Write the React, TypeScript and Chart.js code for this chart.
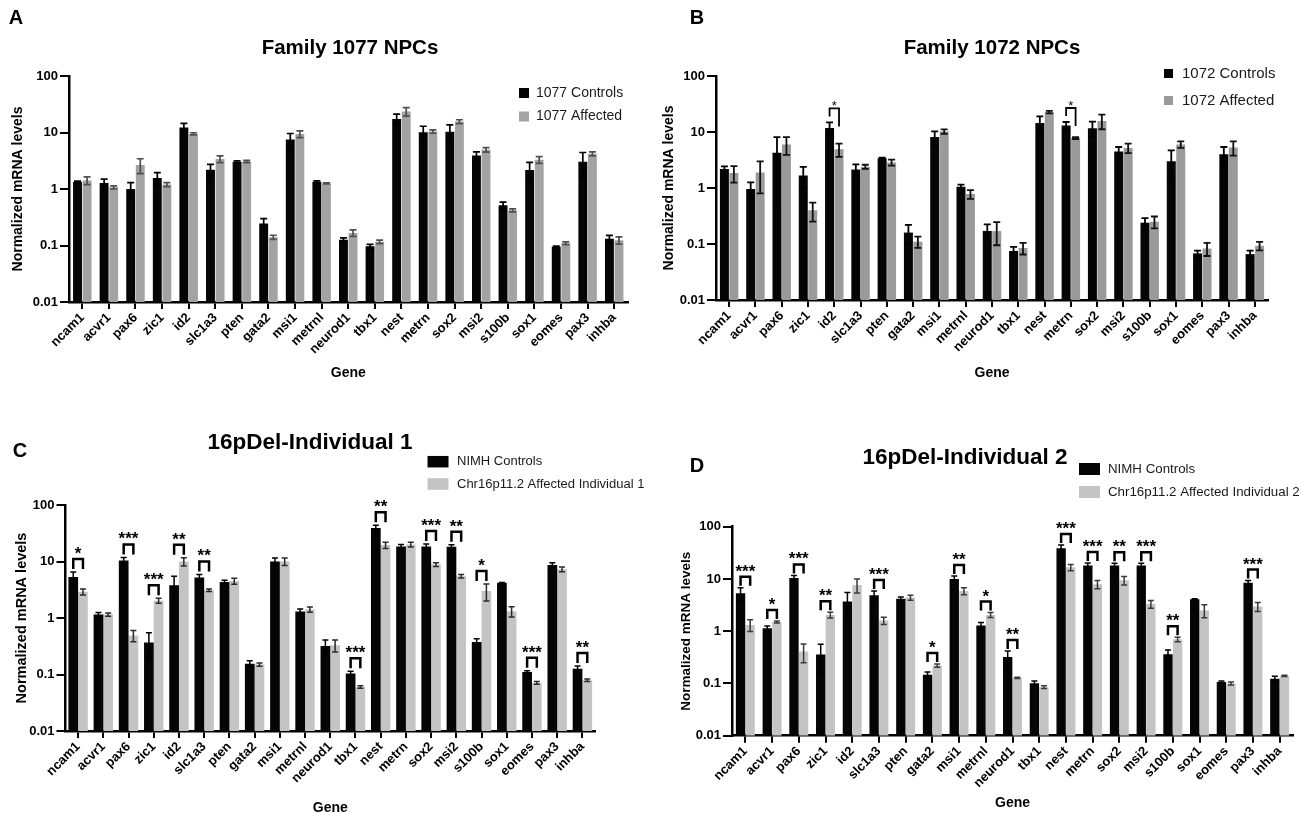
import React, { useEffect, useRef } from "react";
import { Chart, registerables } from "chart.js";

Chart.register(...registerables);

const FONT = '"Liberation Sans", Arial, Helvetica, sans-serif';

// ---------- shared categories / ticks ----------
const genes = ["ncam1", "acvr1", "pax6", "zic1", "id2", "slc1a3", "pten", "gata2", "msi1", "metrnl", "neurod1", "tbx1", "nest", "metrn", "sox2", "msi2", "s100b", "sox1", "eomes", "pax3", "inhba"];
const yTickValues = [0.01, 0.1, 1, 10, 100];
const yTickLabels = ["0.01", "0.1", "1", "10", "100"];

// ---------- Panel A: Family 1077 ----------
const a1077Controls = [1.33, 1.28, 1.0, 1.56, 12.2, 2.2, 3.03, 0.245, 7.5, 1.35, 0.126, 0.097, 17.4, 10.1, 10.3, 3.93, 0.515, 2.16, 0.095, 3.03, 0.131];
const a1077ControlsSem = [0.05, 0.22, 0.3, 0.39, 2.3, 0.52, 0.12, 0.055, 2.1, 0.05, 0.01, 0.008, 3.7, 2.8, 3.3, 0.6, 0.07, 0.8, 0.003, 1.4, 0.02];
const a1077Affected = [1.42, 1.07, 2.65, 1.2, 9.5, 3.4, 3.07, 0.14, 9.4, 1.26, 0.167, 0.116, 23.5, 10.4, 15.6, 4.94, 0.42, 3.3, 0.11, 4.2, 0.124];
const a1077AffectedSem = [0.22, 0.07, 0.78, 0.1, 0.4, 0.47, 0.15, 0.012, 1.3, 0.03, 0.022, 0.008, 4.0, 0.7, 1.2, 0.45, 0.025, 0.45, 0.006, 0.35, 0.018];
const aSig = ["", "", "", "", "", "", "", "", "", "", "", "", "", "", "", "", "", "", "", "", ""];

// ---------- Panel B: Family 1072 ----------
const b1072Controls = [2.19, 0.96, 4.27, 1.68, 11.8, 2.15, 3.4, 0.16, 8.1, 1.05, 0.171, 0.075, 14.5, 13.0, 11.7, 4.5, 0.24, 3.0, 0.068, 4.0, 0.066];
const b1072ControlsSem = [0.25, 0.3, 3.8, 0.7, 3.0, 0.5, 0.1, 0.06, 2.2, 0.1, 0.053, 0.014, 4.5, 2.1, 3.6, 0.9, 0.05, 1.7, 0.008, 1.4, 0.01];
const b1072Affected = [1.85, 1.9, 6.0, 0.4, 4.9, 2.4, 2.85, 0.11, 10.2, 0.78, 0.17, 0.085, 22.7, 7.8, 15.8, 5.2, 0.25, 6.0, 0.083, 5.3, 0.093];
const b1072AffectedSem = [0.6, 1.1, 2.1, 0.15, 1.3, 0.2, 0.35, 0.025, 0.9, 0.14, 0.075, 0.02, 1.2, 0.3, 4.6, 1.0, 0.06, 0.8, 0.022, 1.5, 0.016];
const bSig = ["", "", "", "", "*", "", "", "", "", "", "", "", "", "*", "", "", "", "", "", "", ""];

// ---------- Panel C: 16pDel Individual 1 ----------
const cNimhControls = [5.3, 1.15, 10.4, 0.37, 3.8, 5.2, 4.35, 0.155, 10.0, 1.3, 0.32, 0.104, 39.0, 18.5, 18.5, 18.2, 0.375, 4.2, 0.111, 8.7, 0.126];
const cNimhControlsSem = [1.2, 0.1, 1.4, 0.18, 1.7, 0.7, 0.3, 0.02, 1.5, 0.15, 0.09, 0.01, 5.0, 1.5, 2.0, 1.6, 0.055, 0.05, 0.006, 0.8, 0.015];
const cAffected1 = [2.9, 1.15, 0.49, 2.03, 10.0, 3.1, 4.5, 0.15, 10.0, 1.42, 0.33, 0.06, 19.5, 20.0, 8.85, 5.5, 3.0, 1.31, 0.071, 7.3, 0.079];
const cAffected1Sem = [0.35, 0.08, 0.11, 0.2, 1.7, 0.15, 0.55, 0.01, 1.5, 0.15, 0.08, 0.003, 2.5, 2.0, 0.7, 0.4, 1.0, 0.27, 0.004, 0.7, 0.004];
const cSig = ["*", "", "***", "***", "**", "**", "", "", "", "", "", "***", "**", "", "***", "**", "*", "", "***", "", "**"];

// ---------- Panel D: 16pDel Individual 2 ----------
const dNimhControls = [5.3, 1.14, 10.4, 0.36, 3.7, 4.9, 4.2, 0.147, 10.0, 1.28, 0.32, 0.101, 38.5, 18.0, 18.0, 18.0, 0.364, 4.1, 0.107, 8.5, 0.123];
const dNimhControlsSem = [1.5, 0.12, 1.3, 0.2, 1.8, 1.0, 0.3, 0.018, 1.4, 0.18, 0.1, 0.011, 6.0, 2.2, 2.0, 2.0, 0.075, 0.1, 0.005, 0.8, 0.015];
const dAffected2 = [1.32, 1.5, 0.41, 2.05, 7.7, 1.6, 4.4, 0.22, 5.9, 2.05, 0.128, 0.085, 16.7, 7.9, 9.4, 3.3, 0.7, 2.5, 0.1, 2.96, 0.14];
const dAffected2Sem = [0.33, 0.07, 0.16, 0.26, 2.3, 0.25, 0.5, 0.015, 0.9, 0.22, 0.003, 0.005, 2.3, 1.4, 1.7, 0.55, 0.07, 0.7, 0.007, 0.57, 0.004];
const dSig = ["***", "*", "***", "**", "", "***", "", "*", "**", "*", "**", "", "***", "***", "**", "***", "**", "", "", "***", ""];

// ---------- layout / style config (page coordinates) ----------
type Panel = {
  left: number; top: number; width: number; height: number;
  area: { l: number; r: number; t: number; b: number };
  yTitleX: number; yTitleSize: number; geneY: number;
  letter: { text: string; x: number; y: number };
  title: { text: string; x: number; y: number; size: number };
  legend: { labels: string[]; boxX: number; boxW: number; boxH: number; rows: number[]; textX: number; size: number };
  series: number[][]; errs: number[][]; sig: string[];
  colors: string[]; errColors: string[];
  catPct: number; barPct: number; errWidth: number; cap: number;
  bracket: { gap: number; legL: number; legR: number; lw: number; font: string; starGap: number };
};

const panels: Panel[] = [
  {
    left: 0, top: 0, width: 654, height: 400,
    area: { l: 69, r: 627.5, t: 76, b: 302 },
    yTitleX: 18, yTitleSize: 14, geneY: 373,
    letter: { text: "A", x: 16, y: 18 },
    title: { text: "Family 1077 NPCs", x: 350, y: 48, size: 20.5 },
    legend: { labels: ["1077 Controls", "1077 Affected"], boxX: 519, boxW: 10, boxH: 10, rows: [93, 116.5], textX: 536, size: 14 },
    series: [a1077Controls, a1077Affected], errs: [a1077ControlsSem, a1077AffectedSem], sig: aSig,
    colors: ["#050505", "#a3a3a3"], errColors: ["#000000", "#505050"],
    catPct: 0.72, barPct: 0.93, errWidth: 1.7, cap: 3.5,
    bracket: { gap: 13, legL: 9, legR: 9, lw: 2, font: "bold 16px", starGap: 0 },
  },
  {
    left: 654, top: 0, width: 655, height: 400,
    area: { l: 716, r: 1268, t: 76, b: 300 },
    yTitleX: 669, yTitleSize: 14, geneY: 373,
    letter: { text: "B", x: 697, y: 18 },
    title: { text: "Family 1072 NPCs", x: 992, y: 48, size: 20.5 },
    legend: { labels: ["1072 Controls", "1072 Affected"], boxX: 1164, boxW: 9, boxH: 9, rows: [73.5, 100.5], textX: 1182, size: 15 },
    series: [b1072Controls, b1072Affected], errs: [b1072ControlsSem, b1072AffectedSem], sig: bSig,
    colors: ["#050505", "#9a9a9a"], errColors: ["#000000", "#111111"],
    catPct: 0.72, barPct: 0.95, errWidth: 1.8, cap: 3.5,
    bracket: { gap: 14, legL: 8, legR: 18, lw: 1.8, font: "normal 13px", starGap: -2 },
  },
  {
    left: 0, top: 400, width: 654, height: 425,
    area: { l: 65.5, r: 595, t: 505, b: 731 },
    yTitleX: 22, yTitleSize: 14.5, geneY: 808,
    letter: { text: "C", x: 20, y: 451 },
    title: { text: "16pDel-Individual 1", x: 310, y: 443, size: 22.5 },
    legend: { labels: ["NIMH Controls", "Chr16p11.2 Affected Individual 1"], boxX: 427.5, boxW: 21, boxH: 11.5, rows: [461.7, 484], textX: 457, size: 13 },
    series: [cNimhControls, cAffected1], errs: [cNimhControlsSem, cAffected1Sem], sig: cSig,
    colors: ["#050505", "#c4c4c4"], errColors: ["#000000", "#2a2a2a"],
    catPct: 0.77, barPct: 1.0, errWidth: 1.5, cap: 3,
    bracket: { gap: 13, legL: 10, legR: 10, lw: 2.5, font: "bold 17px", starGap: 0 },
  },
  {
    left: 654, top: 400, width: 655, height: 425,
    area: { l: 732, r: 1293, t: 526.7, b: 735.7 },
    yTitleX: 686, yTitleSize: 13.5, geneY: 803,
    letter: { text: "D", x: 697, y: 466 },
    title: { text: "16pDel-Individual 2", x: 965, y: 458, size: 22.5 },
    legend: { labels: ["NIMH Controls", "Chr16p11.2 Affected Individual 2"], boxX: 1079, boxW: 21, boxH: 12, rows: [469, 492], textX: 1108, size: 13.3 },
    series: [dNimhControls, dAffected2], errs: [dNimhControlsSem, dAffected2Sem], sig: dSig,
    colors: ["#050505", "#c4c4c4"], errColors: ["#000000", "#3a3a3a"],
    catPct: 0.72, barPct: 0.97, errWidth: 1.5, cap: 3,
    bracket: { gap: 11, legL: 9, legR: 9, lw: 2.5, font: "bold 17px", starGap: 0 },
  },
];

function makeOverlay(p: Panel) {
  return {
    id: "overlay",
    afterDatasetsDraw(chart: any) {
      const ctx = chart.ctx as CanvasRenderingContext2D;
      const ys = chart.scales.y;
      const cap = p.cap;
      ctx.save();
      // error bars
      p.errs.forEach((errArr, di) => {
        const meta = chart.getDatasetMeta(di);
        const data = p.series[di];
        ctx.strokeStyle = p.errColors[di];
        ctx.lineWidth = p.errWidth;
        meta.data.forEach((el: any, i: number) => {
          const m = data[i];
          const e = errArr[i];
          const hi = ys.getPixelForValue(m + e);
          const lo = ys.getPixelForValue(Math.max(m - e, 0.0102));
          const x = el.x;
          ctx.beginPath();
          ctx.moveTo(x, lo); ctx.lineTo(x, hi);
          ctx.moveTo(x - cap, hi); ctx.lineTo(x + cap, hi);
          ctx.moveTo(x - cap, lo); ctx.lineTo(x + cap, lo);
          ctx.stroke();
        });
      });
      // significance brackets
      const m0 = chart.getDatasetMeta(0);
      const m1 = chart.getDatasetMeta(1);
      const br = p.bracket;
      p.sig.forEach((s, i) => {
        if (!s) return;
        const x0 = m0.data[i].x;
        const x1 = m1.data[i].x;
        const t0 = ys.getPixelForValue(p.series[0][i] + p.errs[0][i]);
        const t1 = ys.getPixelForValue(p.series[1][i] + p.errs[1][i]);
        const top = Math.min(t0, t1) - br.gap;
        ctx.strokeStyle = "#000";
        ctx.lineWidth = br.lw;
        ctx.lineJoin = "miter";
        ctx.beginPath();
        ctx.moveTo(x0, top + br.legL);
        ctx.lineTo(x0, top);
        ctx.lineTo(x1, top);
        ctx.lineTo(x1, top + br.legR);
        ctx.stroke();
        ctx.fillStyle = "#000";
        ctx.font = `${br.font} ${FONT}`;
        ctx.textAlign = "center";
        ctx.textBaseline = "alphabetic";
        ctx.fillText(s, (x0 + x1) / 2, top - br.starGap);
      });
      ctx.restore();
    },
    afterDraw(chart: any) {
      const ctx = chart.ctx as CanvasRenderingContext2D;
      const ox = p.left, oy = p.top;
      ctx.save();
      ctx.fillStyle = "#000";
      ctx.textBaseline = "middle";
      // panel letter
      ctx.font = `bold 20px ${FONT}`;
      ctx.textAlign = "center";
      ctx.fillText(p.letter.text, p.letter.x - ox, p.letter.y - oy);
      // title
      ctx.font = `bold ${p.title.size}px ${FONT}`;
      ctx.fillText(p.title.text, p.title.x - ox, p.title.y - oy);
      // legend
      const lg = p.legend;
      ctx.font = `${lg.size}px ${FONT}`;
      ctx.textAlign = "left";
      lg.labels.forEach((lab, k) => {
        const cy = lg.rows[k] - oy;
        ctx.fillStyle = p.colors[k];
        ctx.fillRect(lg.boxX - ox, cy - lg.boxH / 2, lg.boxW, lg.boxH);
        ctx.fillStyle = "#1a1a1a";
        ctx.fillText(lab, lg.textX - ox, cy);
      });
      ctx.restore();
    },
  };
}

function buildChart(canvas: HTMLCanvasElement, p: Panel) {
  const yOff = (p.yTitleSize * 1.2) / 2 + 4;
  const scaleLeft = p.yTitleX - yOff;
  const padL = scaleLeft - p.left;
  const yW = p.area.l - scaleLeft;
  const padT = p.area.t - p.top;
  const padR = p.left + p.width - p.area.r;
  const xOff = (14 * 1.2) / 2 + 4;
  const scaleBottom = p.geneY + xOff;
  const xH = scaleBottom - p.area.b;
  const padB = p.top + p.height - scaleBottom;

  return new Chart(canvas, {
    type: "bar",
    data: {
      labels: genes,
      datasets: p.series.map((vals, k) => ({
        label: p.legend.labels[k],
        data: vals,
        backgroundColor: p.colors[k],
        borderWidth: 0,
        categoryPercentage: p.catPct,
        barPercentage: p.barPct,
      })),
    },
    options: {
      responsive: false,
      animation: false,
      events: [],
      layout: { padding: { left: padL, top: padT, right: padR, bottom: padB } },
      plugins: {
        legend: { display: false },
        title: { display: false },
        tooltip: { enabled: false },
      },
      scales: {
        x: {
          type: "category",
          offset: true,
          grid: { display: true, drawOnChartArea: false, drawTicks: true, tickLength: 7, offset: false, color: "#000", lineWidth: 2 },
          border: { display: true, color: "#000", width: 2.5 },
          ticks: { autoSkip: false, maxRotation: 45, minRotation: 45, padding: 1, color: "#000", font: { family: FONT, size: 13, weight: "bold" } },
          title: { display: true, text: "Gene", color: "#000", font: { family: FONT, size: 14, weight: "bold" }, padding: { top: 4, bottom: 4 } },
          afterFit: (s: any) => { s.height = xH; },
        },
        y: {
          type: "logarithmic",
          min: 0.01,
          max: 100,
          grid: { display: true, drawOnChartArea: false, drawTicks: true, tickLength: 9, color: "#000", lineWidth: 2 },
          border: { display: true, color: "#000", width: 2.5 },
          afterBuildTicks: (s: any) => { s.ticks = yTickValues.map((v) => ({ value: v })); },
          ticks: {
            autoSkip: false,
            padding: 2,
            color: "#000",
            font: { family: FONT, size: 13, weight: "bold" },
            callback: (_v: any, i: number) => yTickLabels[i],
          },
          title: { display: true, text: "Normalized mRNA levels", color: "#000", font: { family: FONT, size: p.yTitleSize, weight: "bold" }, padding: { top: 4, bottom: 4 } },
          afterFit: (s: any) => { s.width = yW; },
        },
      },
    } as any,
    plugins: [makeOverlay(p)],
  });
}

function PanelChart({ p }: { p: Panel }) {
  const ref = useRef<HTMLCanvasElement | null>(null);
  useEffect(() => {
    if (!ref.current) return;
    const ch = buildChart(ref.current, p);
    return () => ch.destroy();
  }, [p]);
  return (
    <canvas
      ref={ref}
      width={p.width}
      height={p.height}
      style={{ position: "absolute", left: p.left, top: p.top, width: p.width, height: p.height }}
    />
  );
}

export default function App() {
  return (
    <div style={{ position: "absolute", left: 0, top: 0, width: 1309, height: 813, overflow: "hidden", background: "#fff" }}>
      {panels.map((p, i) => (
        <PanelChart key={i} p={p} />
      ))}
    </div>
  );
}
